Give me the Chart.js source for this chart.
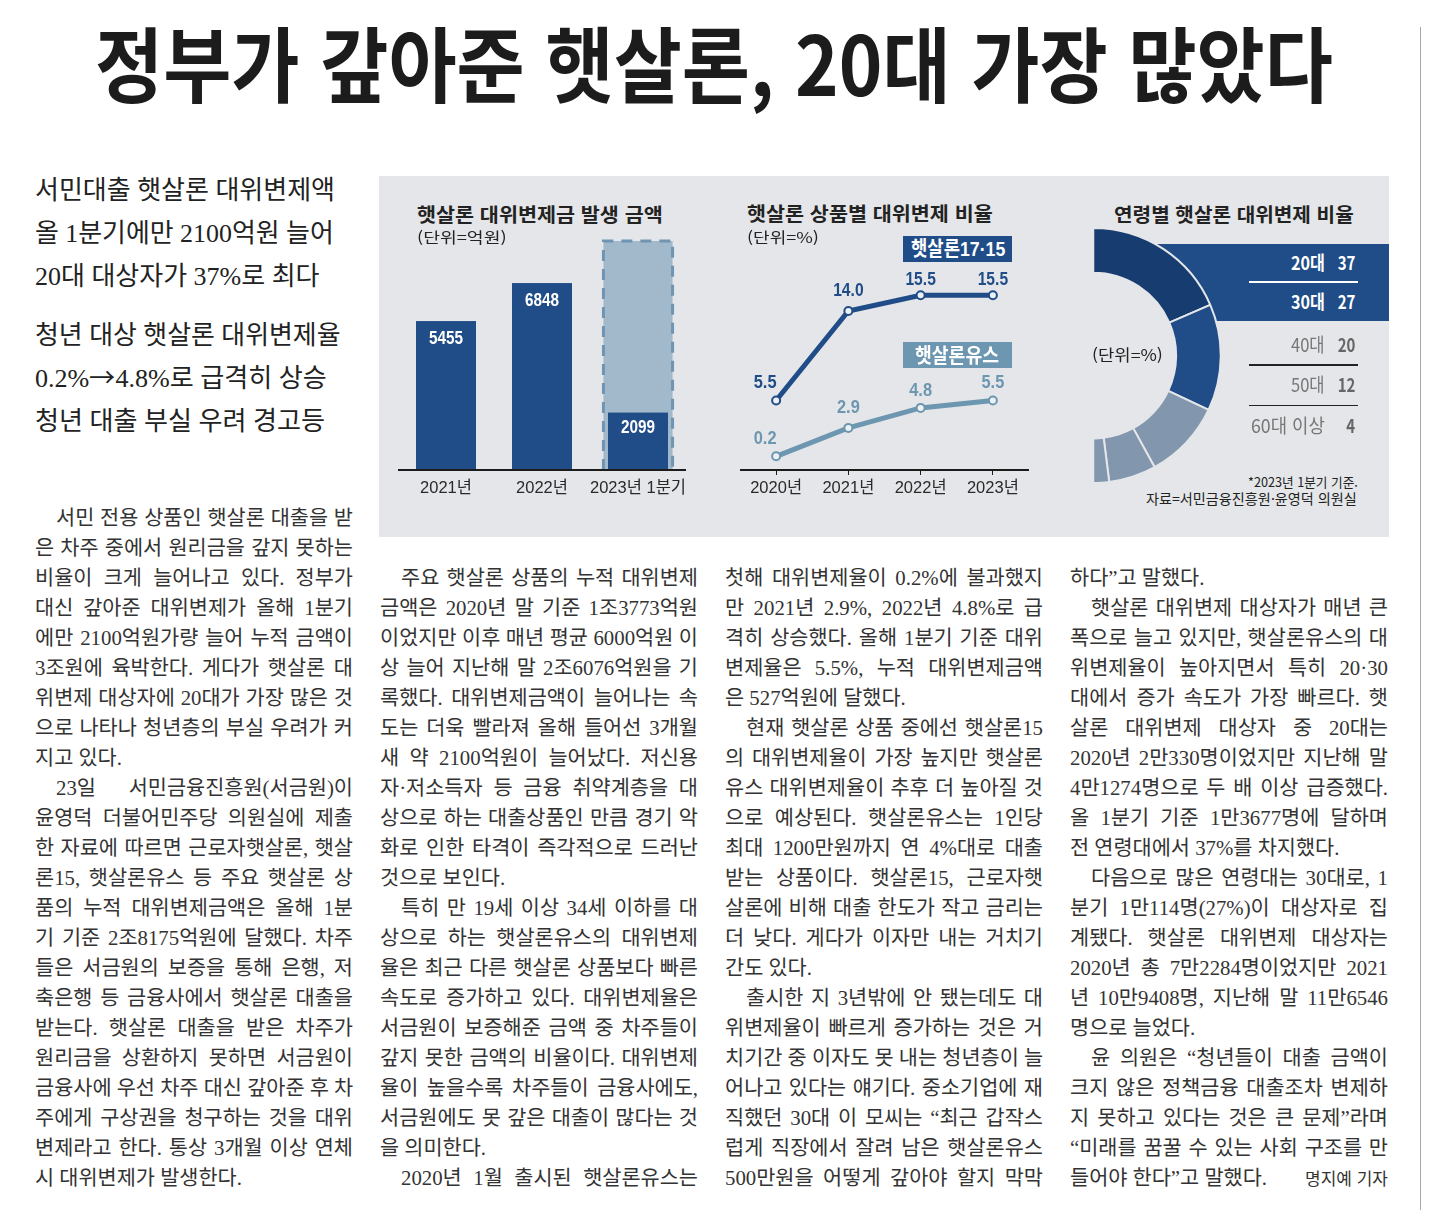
<!DOCTYPE html>
<html lang="ko">
<head>
  <title>정부가 갚아준 햇살론, 20대 가장 많았다</title>
  <meta charset="utf-8">
  <script src="https://cdn.jsdelivr.net/npm/chart.js@4"></script>
  <style>
    /* long arrow comes from the gothic face, the digits from the serif one */
    @font-face { font-family: "ArrowFace"; src: local("Noto Sans CJK KR"); unicode-range: U+2192; }
    html, body { margin: 0; padding: 0; background: #fff; }
    #page { position: relative; width: 1431px; height: 1210px; overflow: hidden; color: #222;
      font-family: "Noto Sans CJK KR", sans-serif; }
    #panel { position: absolute; left: 379px; top: 176px; width: 1010px; height: 361px; background: #e4e6e9; }
    #rule { position: absolute; left: 1420px; top: 27px; width: 1px; height: 1183px; background: #a8a8a8; }
    /* left edge slants so it stays hidden under the ring */
    #band { position: absolute; left: 1130px; top: 244px; width: 259px; height: 77px; background: #204d87;
      clip-path: polygon(10px 0, 100% 0, 100% 100%, 40px 100%); }
    canvas { position: absolute; }
    .t { position: absolute; white-space: nowrap; line-height: 1; transform-origin: 0 50%; }
    .r { transform-origin: 100% 50%; }
    .line { position: absolute; height: 30px; line-height: 30px; font-size: 20.8px; font-weight: 400; color: #333;
      font-family: "Liberation Serif", "Noto Sans CJK KR", serif; white-space: nowrap; }
    .just { text-align: justify; text-align-last: justify; }
    .hr { position: absolute; }
  </style>
</head>
<body>
<div id="page">
  <div id="panel"></div>
  <div id="rule"></div>
  <div id="band"></div>
  <canvas id="barChart" style="left:398px;top:230px;width:288px;height:280px"></canvas>
  <canvas id="lineChart" style="left:740px;top:230px;width:289px;height:280px"></canvas>
  <canvas id="ageChart" style="left:1092px;top:227px;width:130px;height:257px"></canvas>
</div>

<script>
  // bar chart
  const barYears = ["2021년", "2022년", "2023년 1분기"]
  const barAmounts = [5455, 6848, 2099]
  const barProjected = [null, null, 8400]

  // line chart
  const lineYears = ["2020년", "2021년", "2022년", "2023년"]
  const rate1715 = [5.5, 14.0, 15.5, 15.5]
  const rateYouth = [0.2, 2.9, 4.8, 5.5]

  // doughnut
  const ageGroups = ["20대", "30대", "40대", "50대", "60대 이상"]
  const ageShares = [37, 27, 20, 12, 4]

  const headline = "정부가 갚아준 햇살론, 20대 가장 많았다"
  const subheads = [
    ["서민대출 햇살론 대위변제액", 189, 300], ["올 1분기에만 2100억원 늘어", 232, 299], ["20대 대상자가 37%로 최다", 275, 285],
    ["청년 대상 햇살론 대위변제율", 334, 306], ["0.2%→4.8%로 급격히 상승", 377, 292], ["청년 대출 부실 우려 경고등", 420, 290]
  ]

  // ">" starts a paragraph, "." at the front keeps a short last line unjustified, "@" splits off the byline
  const column1 = [
    ">서민 전용 상품인 햇살론 대출을 받", "은 차주 중에서 원리금을 갚지 못하는", "비율이 크게 늘어나고 있다. 정부가",
    "대신 갚아준 대위변제가 올해 1분기", "에만 2100억원가량 늘어 누적 금액이", "3조원에 육박한다. 게다가 햇살론 대",
    "위변제 대상자에 20대가 가장 많은 것", "으로 나타나 청년층의 부실 우려가 커", ".지고 있다.",
    ">23일 서민금융진흥원(서금원)이", "윤영덕 더불어민주당 의원실에 제출", "한 자료에 따르면 근로자햇살론, 햇살",
    "론15, 햇살론유스 등 주요 햇살론 상", "품의 누적 대위변제금액은 올해 1분", "기 기준 2조8175억원에 달했다. 차주",
    "들은 서금원의 보증을 통해 은행, 저", "축은행 등 금융사에서 햇살론 대출을", "받는다. 햇살론 대출을 받은 차주가",
    "원리금을 상환하지 못하면 서금원이", "금융사에 우선 차주 대신 갚아준 후 차", "주에게 구상권을 청구하는 것을 대위",
    "변제라고 한다. 통상 3개월 이상 연체", ".시 대위변제가 발생한다."
  ]
  const column2 = [
    ">주요 햇살론 상품의 누적 대위변제", "금액은 2020년 말 기준 1조3773억원", "이었지만 이후 매년 평균 6000억원 이",
    "상 늘어 지난해 말 2조6076억원을 기", "록했다. 대위변제금액이 늘어나는 속", "도는 더욱 빨라져 올해 들어선 3개월",
    "새 약 2100억원이 늘어났다. 저신용", "자·저소득자 등 금융 취약계층을 대", "상으로 하는 대출상품인 만큼 경기 악",
    "화로 인한 타격이 즉각적으로 드러난", ".것으로 보인다.",
    ">특히 만 19세 이상 34세 이하를 대", "상으로 하는 햇살론유스의 대위변제", "율은 최근 다른 햇살론 상품보다 빠른",
    "속도로 증가하고 있다. 대위변제율은", "서금원이 보증해준 금액 중 차주들이", "갚지 못한 금액의 비율이다. 대위변제",
    "율이 높을수록 차주들이 금융사에도,", "서금원에도 못 갚은 대출이 많다는 것", ".을 의미한다.",
    ">2020년 1월 출시된 햇살론유스는"
  ]
  const column3 = [
    "첫해 대위변제율이 0.2%에 불과했지", "만 2021년 2.9%, 2022년 4.8%로 급", "격히 상승했다. 올해 1분기 기준 대위",
    "변제율은 5.5%, 누적 대위변제금액", ".은 527억원에 달했다.",
    ">현재 햇살론 상품 중에선 햇살론15", "의 대위변제율이 가장 높지만 햇살론", "유스 대위변제율이 추후 더 높아질 것",
    "으로 예상된다. 햇살론유스는 1인당", "최대 1200만원까지 연 4%대로 대출", "받는 상품이다. 햇살론15, 근로자햇",
    "살론에 비해 대출 한도가 작고 금리는", "더 낮다. 게다가 이자만 내는 거치기", ".간도 있다.",
    ">출시한 지 3년밖에 안 됐는데도 대", "위변제율이 빠르게 증가하는 것은 거", "치기간 중 이자도 못 내는 청년층이 늘",
    "어나고 있다는 얘기다. 중소기업에 재", "직했던 30대 이 모씨는 “최근 갑작스", "럽게 직장에서 잘려 남은 햇살론유스",
    "500만원을 어떻게 갚아야 할지 막막"
  ]
  const column4 = [
    ".하다”고 말했다.",
    ">햇살론 대위변제 대상자가 매년 큰", "폭으로 늘고 있지만, 햇살론유스의 대", "위변제율이 높아지면서 특히 20·30",
    "대에서 증가 속도가 가장 빠르다. 햇", "살론 대위변제 대상자 중 20대는", "2020년 2만330명이었지만 지난해 말",
    "4만1274명으로 두 배 이상 급증했다.", "올 1분기 기준 1만3677명에 달하며", ".전 연령대에서 37%를 차지했다.",
    ">다음으로 많은 연령대는 30대로, 1", "분기 1만114명(27%)이 대상자로 집", "계됐다. 햇살론 대위변제 대상자는",
    "2020년 총 7만2284명이었지만 2021", "년 10만9408명, 지난해 말 11만6546", ".명으로 늘었다.",
    ">윤 의원은 “청년들이 대출 금액이", "크지 않은 정책금융 대출조차 변제하", "지 못하고 있다는 것은 큰 문제”라며",
    "“미래를 꿈꿀 수 있는 사회 구조를 만", "@들어야 한다”고 말했다.@명지예 기자"
  ]

  const NAVY = "#204d87"
  const NAVY_DARK = "#173d70"
  const STEEL = "#6d96b0"
  const PALE = "#a2b8cb"
  const SLATE = "#8296ae"
  const SANS = "'Liberation Sans', 'Noto Sans CJK KR', sans-serif"

  const page = document.getElementById("page")

  function put(text, x, y, size, o) {
    o = o || {}
    const el = document.createElement("div")
    el.className = "t" + (o.right ? " r" : "")
    el.textContent = text
    el.style.fontSize = size + "px"
    el.style.fontWeight = o.weight || 400
    el.style.color = o.color || "#222"
    if (o.family) el.style.fontFamily = o.family
    if (o.right) el.style.right = (1431 - x) + "px"
    else el.style.left = x + "px"
    page.appendChild(el)
    el.style.top = (y - el.offsetHeight / 2) + "px"
    if (o.w) el.style.transform = "scaleX(" + o.w / el.offsetWidth + ")"
    return el
  }

  function hline(x, y, w, h, color) {
    const el = document.createElement("div")
    el.className = "hr"
    el.style.cssText = "left:" + x + "px;top:" + y + "px;width:" + w + "px;height:" + h + "px;background:" + color
    page.appendChild(el)
  }

  function column(lines, x, firstY) {
    lines.forEach((raw, i) => {
      const el = document.createElement("div")
      el.className = "line"
      el.style.left = x + "px"
      el.style.top = (firstY + i * 30 - 14) + "px"
      el.style.width = "318px"
      if (raw[0] == "@") {
        const parts = raw.split("@")
        el.textContent = parts[1]
        const by = document.createElement("span")
        by.textContent = parts[2]
        by.style.cssText = "position:absolute;right:0;font-size:17px;font-family:'Noto Sans CJK KR'"
        el.appendChild(by)
      } else if (raw[0] == ".") {
        el.textContent = raw.slice(1)
      } else if (raw[0] == ">") {
        el.textContent = raw.slice(1)
        el.classList.add("just")
        el.style.left = (x + 21) + "px"
        el.style.width = "297px"
      } else {
        el.textContent = raw
        el.classList.add("just")
      }
      page.appendChild(el)
    })
  }

  put(headline, 95, 61, 82, {weight: 700, w: 1238, color: "#1c1c1c"})
  subheads.forEach(s => put(s[0], 35, s[1] + 2, 26, {w: s[2], family: "'ArrowFace', 'Liberation Serif', 'Noto Sans CJK KR', serif"}))
  column(column1, 35, 517)
  column(column2, 380, 577)
  column(column3, 725, 577)
  column(column4, 1070, 577)

  put("햇살론 대위변제금 발생 금액", 417, 213, 19, {weight: 700, w: 246})
  put("(단위=억원)", 417, 236, 15, {w: 90})
  put("햇살론 상품별 대위변제 비율", 747, 212, 19, {weight: 700, w: 246})
  put("(단위=%)", 747, 236, 15, {w: 72})
  put("연령별 햇살론 대위변제 비율", 1114, 213, 19, {weight: 700, w: 240})
  put("(단위=%)", 1092, 354, 16, {w: 71})

  // series tags on the line chart
  hline(903, 236, 109, 26, NAVY)
  hline(903, 342, 109, 26, STEEL)
  put("햇살론17·15", 911, 249, 20, {weight: 700, color: "#fff", family: SANS, w: 94})
  put("햇살론유스", 915, 355, 20, {weight: 700, color: "#fff", w: 84})

  // age table next to the doughnut, labels squeezed to the condensed look of the original
  const tableY = [261, 300, 343, 383, 424]
  const groupWidths = [34, 34, 34, 34, 74]
  ageGroups.forEach((g, i) => {
    const top = i < 2
    put(g, 1325, tableY[i], 19, {right: true, w: groupWidths[i], weight: top ? 700 : 400, color: top ? "#fff" : "#777"})
    const s = String(ageShares[i])
    put(s, 1355, tableY[i], 19, {right: true, w: s.length * 8.7, weight: 700, color: top ? "#fff" : "#666"})
  })
  hline(1249, 281, 109, 2, "#fff")
  hline(1249, 364, 109, 2, "#222")
  hline(1249, 405, 109, 1, "#222")
  put("*2023년 1분기 기준.", 1358, 481, 13, {right: true, w: 110})
  put("자료=서민금융진흥원·윤영덕 의원실", 1357, 498, 14, {right: true, w: 211})

  Chart.defaults.animation = false
  Chart.defaults.responsive = false
  Chart.defaults.plugins.legend.display = false
  Chart.defaults.plugins.tooltip.enabled = false
  document.querySelectorAll("canvas").forEach(c => { c.width = parseInt(c.style.width); c.height = parseInt(c.style.height) })

  function xAxis(tickLength, padding) {
    return {
      offset: true,
      border: {display: true, color: "#1c1c1c", width: 2},
      grid: {display: tickLength > 0, drawOnChartArea: false, drawTicks: tickLength > 0, tickLength: tickLength, color: "#1c1c1c", offset: false},
      ticks: {color: "#2a2a2a", font: {family: SANS, size: 16.5}, padding: padding, maxRotation: 0, autoSkip: false},
      afterFit: s => { s.height = 40; s.paddingLeft = 0; s.paddingRight = 0 }
    }
  }

  // dashed outline of the projected bar, values inside the bars
  const barDecor = {
    id: "barDecor",
    afterDatasetsDraw(chart) {
      const ctx = chart.ctx
      const shade = chart.getDatasetMeta(0).data[2]
      ctx.save()
      ctx.strokeStyle = "#6f95b3"
      ctx.lineWidth = 3
      ctx.setLineDash([11, 8])
      ctx.beginPath()
      ctx.moveTo(shade.x - shade.width / 2, shade.base)
      ctx.lineTo(shade.x - shade.width / 2, shade.y)
      ctx.lineTo(shade.x + shade.width / 2, shade.y)
      ctx.lineTo(shade.x + shade.width / 2, shade.base)
      ctx.stroke()
      ctx.restore()

      // drawn again so the solid bar and the axis stay on top of the outline
      chart.getDatasetMeta(1).data.forEach((bar, i) => {
        ctx.fillStyle = NAVY
        ctx.fillRect(bar.x - bar.width / 2, bar.y, bar.width, bar.base - bar.y)
        ctx.fillStyle = "#fff"
        ctx.font = "bold 19px " + SANS
        ctx.textAlign = "center"
        ctx.textBaseline = "middle"
        ctx.fillText(barAmounts[i], bar.x, bar.y + (i == 2 ? 15 : 18), 34)
      })
      const x = chart.scales.x
      ctx.fillStyle = "#1c1c1c"
      ctx.fillRect(x.left, x.top - 1, x.width, 2)
    }
  }

  new Chart("barChart", {
    type: "bar",
    data: {
      labels: barYears,
      datasets: [
        {data: barProjected, backgroundColor: PALE, barPercentage: 0.72, categoryPercentage: 1, grouped: false, order: 2},
        {data: barAmounts, backgroundColor: NAVY, barPercentage: 0.625, categoryPercentage: 1, grouped: false, order: 1}
      ]
    },
    options: {
      scales: {
        x: xAxis(0, 9),
        y: {display: false, min: 0, max: 8800}
      }
    },
    plugins: [barDecor]
  })

  // per-point lift of the value labels above the markers
  const liftUpper = [[-11, 18], [0, 20], [0, 15], [0, 15]]
  const liftLower = [[-11, 18], [0, 20], [0, 17], [0, 18]]

  const lineLabels = {
    id: "lineLabels",
    afterDatasetsDraw(chart) {
      const ctx = chart.ctx
      ctx.font = "bold 19px " + SANS
      ctx.textAlign = "center"
      ctx.textBaseline = "middle"
      const series = [[rate1715, NAVY, liftUpper], [rateYouth, STEEL, liftLower]]
      series.forEach((s, d) => {
        ctx.fillStyle = s[1]
        chart.getDatasetMeta(d).data.forEach((pt, i) => {
          const label = s[0][i].toFixed(1)
          ctx.fillText(label, pt.x + s[2][i][0], pt.y - s[2][i][1], label.length * 7.6)
        })
      })
    }
  }

  function lineSet(values, color) {
    return {
      data: values, borderColor: color, borderWidth: 5, tension: 0,
      pointRadius: 4, pointBorderWidth: 2, pointBackgroundColor: "#eef1f4", pointBorderColor: color
    }
  }

  new Chart("lineChart", {
    type: "line",
    data: {
      labels: lineYears,
      datasets: [lineSet(rate1715, NAVY), lineSet(rateYouth, STEEL)]
    },
    options: {
      layout: {autoPadding: false},
      scales: {
        x: xAxis(5, 4),
        y: {display: false, min: -1.1, max: 21.7}
      }
    },
    plugins: [lineLabels]
  })

  new Chart("ageChart", {
    type: "doughnut",
    data: {
      labels: ageGroups,
      datasets: [{
        data: ageShares,
        backgroundColor: [NAVY_DARK, NAVY, SLATE, SLATE, SLATE],
        borderColor: "#e4e6e9",
        borderWidth: 2
      }]
    },
    options: {
      rotation: 0,
      circumference: 180,
      cutout: "65%"
    }
  })
</script>
</body>
</html>
